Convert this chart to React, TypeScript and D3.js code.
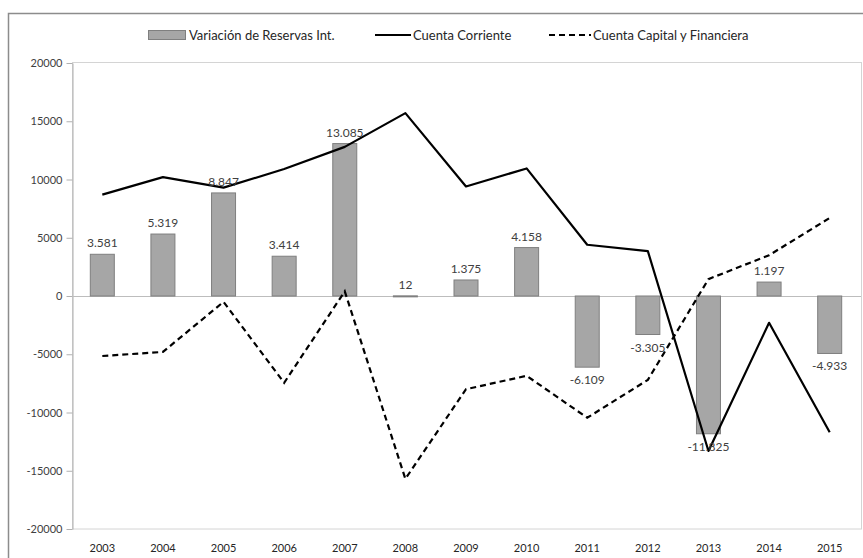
import React, { useEffect, useRef } from "react";
import * as d3 from "d3";

const years = ["2003", "2004", "2005", "2006", "2007", "2008", "2009", "2010", "2011", "2012", "2013", "2014", "2015"];
const reservas = [3581, 5319, 8847, 3414, 13085, 12, 1375, 4158, -6109, -3305, -11825, 1197, -4933];
const corriente = [8700, 10200, 9300, 10900, 12800, 15700, 9400, 10950, 4400, 3850, -13300, -2300, -11700];
const capital = [-5150, -4800, -500, -7450, 400, -15700, -8000, -6850, -10450, -7200, 1450, 3500, 6700];
const yTicks = [20000, 15000, 10000, 5000, 0, -5000, -10000, -15000, -20000];

const W = 863;
const H = 558;
const font = "Lato, 'Open Sans', sans-serif";

export default function App() {
  const ref = useRef<SVGGElement>(null);

  useEffect(() => {
    const svg = d3.select(ref.current);
    svg.selectAll("*").remove();

    const xc = d3.scaleBand().domain(years).range([72, 860]);
    const y = d3.scaleLinear().domain([-20000, 20000]).range([529, 63]);
    const cx = (d: string) => (xc(d) as number) + xc.bandwidth() / 2;
    const bw = 24;

    // outer frame
    svg.append("rect")
      .attr("x", 8.5).attr("y", 13.5).attr("width", W + 20).attr("height", H + 20)
      .attr("fill", "white").attr("stroke", "#8c8c8c").attr("stroke-width", 1.5);

    // plot area border
    svg.append("rect")
      .attr("x", 72.5).attr("y", 62.5).attr("width", 789).attr("height", 466.5)
      .attr("fill", "none").attr("stroke", "#d4d4d4").attr("stroke-width", 1);

    // y axis
    const yAxis = svg.append("g").attr("transform", "translate(72.5,0)")
      .call(d3.axisLeft(y).tickValues(yTicks).tickSize(6).tickSizeOuter(0).tickFormat(d => String(d)));
    yAxis.select(".domain").attr("stroke", "#b0b0b0");
    yAxis.selectAll(".tick line").attr("stroke", "#b0b0b0");
    yAxis.selectAll("text")
      .attr("font-family", font).attr("font-size", 11).attr("fill", "#404040").attr("x", -10);

    // zero line
    svg.append("line")
      .attr("x1", 72).attr("x2", 861).attr("y1", Math.round(y(0)) + 0.5).attr("y2", Math.round(y(0)) + 0.5)
      .attr("stroke", "#bdbdbd").attr("stroke-width", 1);

    // x labels
    svg.append("g").selectAll("text").data(years).enter().append("text")
      .attr("x", d => cx(d)).attr("y", 552)
      .attr("text-anchor", "middle").attr("font-family", font).attr("font-size", 11).attr("fill", "#262626")
      .text(d => d);

    // bars
    svg.append("g").selectAll("rect").data(reservas).enter().append("rect")
      .attr("x", (d, i) => cx(years[i]) - bw / 2)
      .attr("y", d => y(Math.max(0, d)))
      .attr("width", bw)
      .attr("height", d => Math.max(1, Math.abs(y(d) - y(0))))
      .attr("fill", "#a6a6a6").attr("stroke", "#7f7f7f").attr("stroke-width", 1);

    // lines
    const line = d3.line<number>().x((d, i) => cx(years[i])).y(d => y(d));
    svg.append("path").datum(corriente).attr("d", line)
      .attr("fill", "none").attr("stroke", "#000").attr("stroke-width", 2.2).attr("stroke-linejoin", "round");
    svg.append("path").datum(capital).attr("d", line)
      .attr("fill", "none").attr("stroke", "#000").attr("stroke-width", 2.2).attr("stroke-dasharray", "6,4");

    // data labels
    const fmt = (v: number) => d3.format(",")(v).replace(/,/g, ".").replace("−", "-");
    svg.append("g").selectAll("text").data(reservas).enter().append("text")
      .attr("x", (d, i) => cx(years[i]))
      .attr("y", d => (d >= 0 ? y(d) - 7 : y(d) + 17))
      .attr("text-anchor", "middle").attr("font-family", font).attr("font-size", 12).attr("fill", "#404040")
      .text(d => fmt(d));

    // legend
    const lg = svg.append("g").attr("font-family", font).attr("font-size", 13).attr("fill", "#262626");
    lg.append("rect").attr("x", 148.5).attr("y", 30.5).attr("width", 37).attr("height", 9)
      .attr("fill", "#a6a6a6").attr("stroke", "#7f7f7f");
    lg.append("text").attr("x", 189).attr("y", 40).text("Variación de Reservas Int.");
    lg.append("line").attr("x1", 375).attr("x2", 411).attr("y1", 35).attr("y2", 35)
      .attr("stroke", "#000").attr("stroke-width", 2.2);
    lg.append("text").attr("x", 413).attr("y", 40).text("Cuenta Corriente");
    lg.append("line").attr("x1", 549).attr("x2", 591).attr("y1", 35).attr("y2", 35)
      .attr("stroke", "#000").attr("stroke-width", 2.2).attr("stroke-dasharray", "6,4");
    lg.append("text").attr("x", 593).attr("y", 40).text("Cuenta Capital y Financiera");
  }, []);

  return (
    <svg width={W} height={H} style={{ position: "absolute", left: 0, top: 0, background: "white" }}>
      <g ref={ref} />
    </svg>
  );
}
